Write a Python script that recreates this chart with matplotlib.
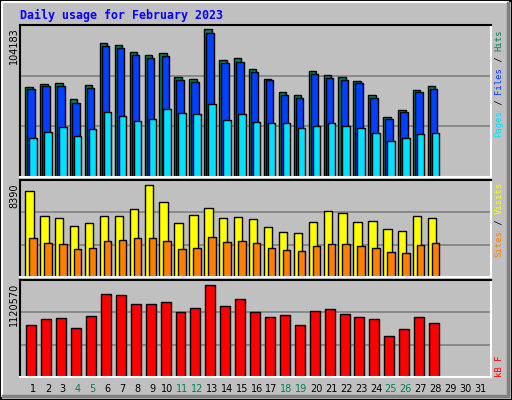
import matplotlib
matplotlib.use("Agg")
import matplotlib.pyplot as plt
from matplotlib.lines import Line2D

days = list(range(1, 29))
hits = [63075, 65200, 65909, 54570, 64492, 94257, 92840, 87879, 85753, 87170, 70161, 68744, 104183, 82209,
        83627, 75831, 68744, 59531, 57405, 74413, 71579, 70161, 67326, 57405, 42522, 47483, 60948, 63783]
files = [61657, 63783, 63783, 52444, 62366, 92131, 90714, 85753, 83627, 85044, 68035, 66618, 101343, 80083,
         80792, 73705, 68035, 57405, 55279, 72288, 69453, 68035, 65909, 55279, 41105, 46066, 59531, 61657]
pages = [27639, 31892, 35435, 29057, 34018, 46066, 43231, 39687, 41105, 48192, 45357, 44648, 51735, 40396,
         44648, 38979, 38270, 38270, 34726, 36144, 38270, 36144, 34726, 31183, 25513, 27639, 30474, 31183]
visits = [7845, 5572, 5390, 4663, 4936, 5572, 5572, 6209, 8390, 6845, 4936, 5663, 6300, 5390,
          5481, 5300, 4572, 4118, 4027, 5027, 6027, 5845, 5027, 5118, 4390, 4209, 5572, 5390]
sites = [3573, 3118, 3027, 2573, 2663, 3300, 3391, 3573, 3573, 3300, 2573, 2663, 3663, 3209,
         3300, 3118, 2663, 2482, 2391, 2845, 3027, 3027, 2845, 2663, 2300, 2209, 2936, 3118]
kbytes = [628000, 702000, 714000, 603000, 739000, 1010000, 997000, 887000, 887000, 911000, 788000, 837000,
          1120570, 862000, 948000, 788000, 727000, 751000, 628000, 800000, 825000, 763000, 727000, 702000,
          505000, 579000, 727000, 653000]
weekend = [4, 5, 11, 12, 18, 19, 25, 26]

BG = "#c0c0c0"
W, H = 512, 400
fig = plt.figure(figsize=(5.12, 4.0), dpi=100)
fig.patch.set_facecolor(BG)

def px(x0, y0, x1, y1):
    return [x0 / W, 1 - y1 / H, (x1 - x0) / W, (y1 - y0) / H]

# outer bevel
def fline(xs, ys, c, lw=1):
    fig.add_artist(Line2D([x / W for x in xs], [1 - y / H for y in ys], color=c, lw=lw))
fline([0.5, 511.5, 511.5, 0.5, 0.5], [0.5, 0.5, 399.5, 399.5, 0.5], "black", 1.5)
fline([2, 2, 508], [396, 2, 2], "white", 1.5)
fline([3, 508, 508], [396, 396, 3], "#808080", 2.5)

fig.text(20 / W, 1 - 15 / H, "Daily usage for February 2023", color="#0000ff",
         family="DejaVu Sans Mono", weight="bold", fontsize=8.4, va="center", ha="left")

xl = (0.128, 31.71)

def panel(rect, top):
    ax = fig.add_axes(px(*rect))
    ax.set_facecolor(BG)
    ax.set_xlim(*xl)
    ax.set_ylim(0, top)
    for y in (top / 3, 2 * top / 3):
        ax.axhline(y, color="#808080", lw=1.2, zorder=0)
    ax.set_xticks([]); ax.set_yticks([])
    for s in ("top", "left"):
        ax.spines[s].set_color("black")
    for s in ("bottom", "right"):
        ax.spines[s].set_color("white")
    for s in ax.spines.values():
        s.set_linewidth(1.5)
    return ax

ax1 = panel((20, 25, 491, 177), 104183 * 151 / 147)
ax1.bar([d - 0.27 for d in days], hits, 0.5, color="#00805c", edgecolor="black", lw=1)
ax1.bar([d - 0.13 for d in days], files, 0.5, color="#0040ff", edgecolor="black", lw=1)
ax1.bar(days, pages, 0.5, color="#00e0ff", edgecolor="black", lw=1)

ax2 = panel((20, 180, 491, 277), 8390 * 97 / 92.3)
ax2.bar([d - 0.24 for d in days], visits, 0.56, color="#ffff00", edgecolor="black", lw=1)
ax2.bar(days, sites, 0.5, color="#ff8000", edgecolor="black", lw=1)

ax3 = panel((20, 280, 491, 377), 1120570 * 96 / 91)
ax3.bar([d - 0.11 for d in days], kbytes, 0.67, color="#ff0000", edgecolor="black", lw=1)

# left max labels
for y, txt in ((27, "104183"), (183, "8390"), (283, "1120570")):
    fig.text(14 / W, 1 - y / H, txt, rotation=90, ha="center", va="top",
             fontsize=7, family="DejaVu Sans", color="black")

# right legends
def legend(ybottom, parts):
    i = 0
    for txt, col in parts:
        fig.text(499 / W, 1 - (ybottom - i * 5.35) / H, txt, rotation=90, ha="center", va="bottom",
                 fontsize=6.4, family="DejaVu Sans Mono", color=col)
        i += len(txt)

legend(137, [("Pages", "#00e0ff"), (" / ", "black"), ("Files", "#0040ff"),
             (" / ", "black"), ("Hits", "#00805c")])
legend(257, [("Sites", "#ff8000"), (" / ", "black"), ("Visits", "#ffff00")])
legend(377, [("kB F", "#ff0000")])

# day labels
for d in range(1, 32):
    x = 20 + (d - xl[0]) / (xl[1] - xl[0]) * 471
    fig.text(x / W, 1 - 389 / H, str(d), ha="center", va="center", fontsize=7,
             family="DejaVu Sans", color="#00805c" if d in weekend else "black")

fig.savefig("out.png", dpi=100, facecolor=BG)
